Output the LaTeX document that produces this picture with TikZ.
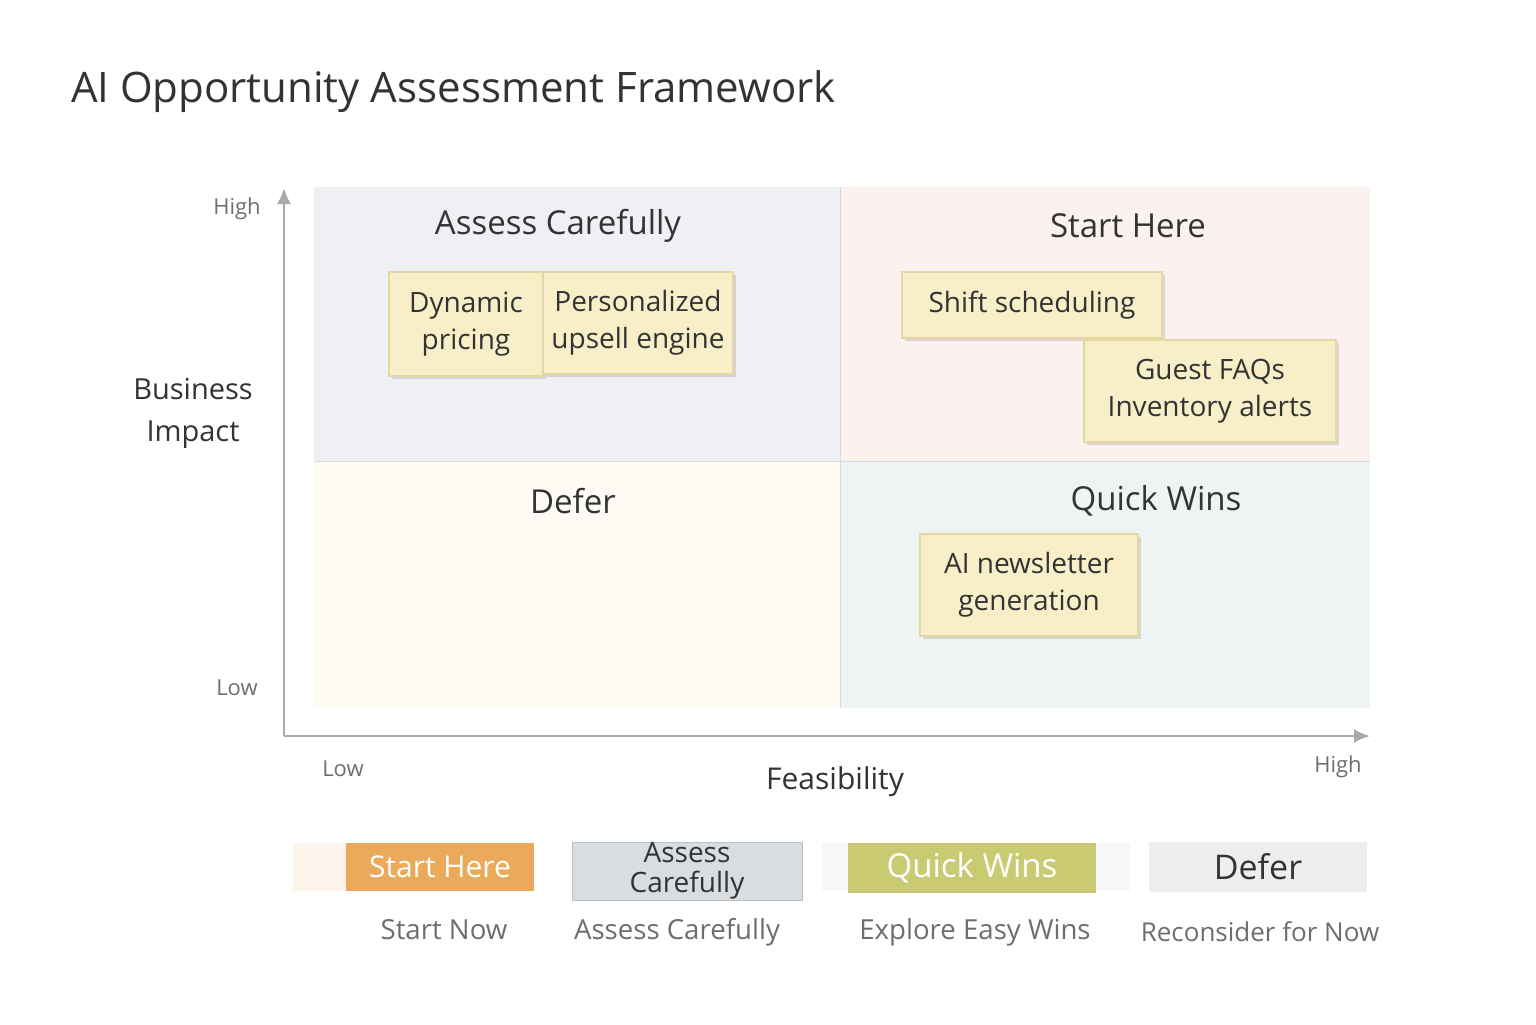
\documentclass[tikz,border=0pt]{standalone}
\usepackage{fontspec}
\setmainfont{Open Sans}
\usetikzlibrary{positioning,shadows,arrows.meta}
\definecolor{ink}{HTML}{333333}
\definecolor{grayink}{HTML}{6E6E6E}
\definecolor{axisgray}{HTML}{AAAAAA}
\definecolor{qtl}{HTML}{EEF0F4}
\definecolor{qtr}{HTML}{FBF1EE}
\definecolor{qbl}{HTML}{FDFBF4}
\definecolor{qbr}{HTML}{EEF3F3}
\definecolor{stickyfill}{HTML}{F8EFC9}
\definecolor{stickyedge}{HTML}{E4D7A2}
\definecolor{orangebar}{HTML}{EBA95A}
\definecolor{olivebar}{HTML}{CACA72}
\definecolor{slatebar}{HTML}{D8DDE2}
\tikzset{
  quad/.style={draw=white!85!black, line width=0.4pt},
  qtitle/.style={font=\fontsize{16.5}{19}\selectfont, text=ink},
  sticky/.style={fill=stickyfill, draw=stickyedge, line width=0.6pt,
    drop shadow={shadow xshift=1.5pt, shadow yshift=-1.5pt, opacity=0.25},
    font=\fontsize{14}{18.5}\selectfont, text=ink, align=center, inner sep=1pt},
  axlabel/.style={font=\fontsize{11}{13}\selectfont, text=grayink},
  legbox/.style={minimum height=24pt, inner sep=0pt, font=\fontsize{15}{16}\selectfont},
  legtext/.style={font=\fontsize{13.8}{16}\selectfont, text=grayink},
}
\begin{document}
\begin{tikzpicture}[x=0.5pt, y=-0.5pt]
  \useasboundingbox[fill=white] (0,0) rectangle (1536,1024);

  \node[anchor=west, font=\fontsize{21}{24}\selectfont, text=ink] (title) at (64,92) {AI Opportunity Assessment Framework};

  % quadrants
  \fill[qtl] (314,187) rectangle (840,461);
  \fill[qtr] (840,187) rectangle (1370,461);
  \fill[qbl] (314,461) rectangle (840,708);
  \fill[qbr] (840,461) rectangle (1370,708);
  \draw[quad] (840,187) -- (840,708);
  \draw[quad] (314,461) -- (1370,461);

  \node[qtitle] (qassess) at (558,226) {Assess Carefully};
  \node[qtitle] (qstart) at (1128,226) {Start Here};
  \node[qtitle] (qdefer) at (573,501) {Defer};
  \node[qtitle] (qquick) at (1156,501) {Quick Wins};

  % stickies
  \node[sticky, minimum width=77pt, minimum height=52pt] (dyn) at (466,324) {Dynamic\\pricing};
  \node[sticky, minimum width=95pt, minimum height=51pt] (pers) at (638,323) {Personalized\\upsell engine};
  \node[sticky, minimum width=130pt, minimum height=33pt] (shift) at (1032,305) {Shift scheduling};
  \node[sticky, minimum width=126pt, minimum height=51pt] (faq) at (1210,391) {Guest FAQs\\Inventory alerts};
  \node[sticky, minimum width=109pt, minimum height=51pt] (news) at (1029,585) {AI newsletter\\generation};

  % axes
  \coordinate (origin) at (284,736);
  \coordinate (ytop) at (284,188);
  \coordinate (xend) at (1370,736);
  \draw[axisgray, line width=1.2pt, -{Latex[length=8pt,width=7pt]}] (origin) -- (ytop);
  \draw[axisgray, line width=1.2pt, -{Latex[length=8pt,width=7pt]}] (origin) -- (xend);

  \node[axlabel] (yhigh) at (237,209) {High};
  \node[axlabel] (ylow) at (237,688) {Low};
  \node[axlabel] (xlow) at (343,769) {Low};
  \node[axlabel] (xhigh) at (1338,767) {High};
  \node[font=\fontsize{14.5}{21}\selectfont, text=ink, align=center] (ylabel) at (193,413) {Business\\Impact};
  \node[font=\fontsize{15}{17}\selectfont, text=ink] (xlabel) at (835,782) {Feasibility};

  % legend
  \fill[orangebar!12] (293,843) rectangle (534,891);
  \node[legbox, fill=orangebar, text=white, minimum width=94pt] (lstart) at (440,867) {Start Here};
  \node[legbox, fill=slatebar, draw=gray!50, minimum width=115pt, minimum height=29pt,
        font=\fontsize{14}{15}\selectfont, text=ink, align=center] (lassess) at (687,871) {Assess\\Carefully};
  \fill[gray!6] (822,843) rectangle (1130,891);
  \node[legbox, fill=olivebar, text=white, minimum width=124pt, minimum height=25pt, font=\fontsize{16.5}{17}\selectfont] (lquick) at (972,868) {Quick Wins};
  \node[legbox, fill=gray!13, text=ink, minimum width=109pt, minimum height=25pt, font=\fontsize{17}{18}\selectfont] (ldefer) at (1258,867) {Defer};

  \node[legtext] (tstart) at (444,930) {Start Now};
  \node[legtext] (tassess) at (677,932) {Assess Carefully};
  \node[legtext] (tquick) at (975,932) {Explore Easy Wins};
  \node[legtext, font=\fontsize{13}{16}\selectfont] (tdefer) at (1260,932) {Reconsider for Now};
\end{tikzpicture}
\end{document}
